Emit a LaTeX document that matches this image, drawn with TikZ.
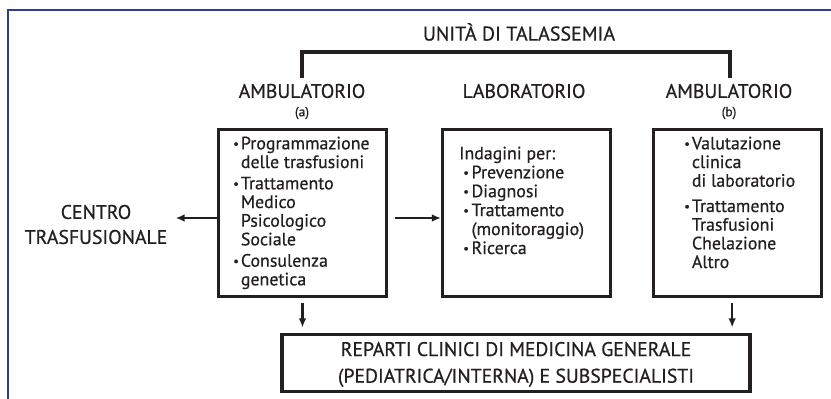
\documentclass[tikz,border=0pt]{standalone}
\usepackage{fontspec}
\setmainfont{PT Sans}[FakeBold=0.6]
\usepackage{xcolor}
\usepackage{tikz}
\usetikzlibrary{arrows.meta}
\definecolor{frameblue}{HTML}{2B3F8F}
\definecolor{ink}{HTML}{231F20}
\tikzset{
  box/.style={draw=ink, line width=2.3pt, minimum width=126pt, minimum height=125.5pt, inner sep=0pt},
  head/.style={font=\fontsize{14.8}{18.75}\selectfont, text=ink, inner sep=0pt},
  body/.style={font=\fontsize{13.4}{14}\selectfont, text=ink, inner sep=0pt, anchor=north west},
  arr/.style={-{Latex[length=2.4mm,width=2mm]}, line width=1.8pt, draw=ink},
}
\newcommand{\pnt}{\raisebox{0.15ex}{\scalebox{0.7}{\textbullet}}}
\begin{document}
\begin{tikzpicture}[x=0.75pt,y=-0.75pt]
\useasboundingbox (0,0) rectangle (831,399);
% cornice
\draw[frameblue, line width=2.2pt] (8,399) -- (8,10) -- (831,10);
%
\node[head, font=\fontsize{15}{18}\selectfont] (title) at (519,32) {UNITÀ DI TALASSEMIA};
\node[head] (hdA) at (302,91) {AMBULATORIO};
\node[head, font=\fontsize{10}{11}\selectfont] (hdAsub) at (302,113) {(a)};
\node[head] (hdL) at (524,91) {LABORATORIO};
\node[head] (hdB) at (729,91) {AMBULATORIO};
\node[head, font=\fontsize{10}{11}\selectfont] (hdBsub) at (729,113) {(b)};
%
\coordinate (brA) at (302,78);
\coordinate (brB) at (730,78);
\draw[line width=2.3pt, ink] (brA) -- ++(0,-26) -| (brB);
%
\node[box] (ambA) at (302.5,213) {};
\node[box] (lab) at (526.5,213) {};
\node[box] (ambB) at (737.5,213) {};
\node[box, minimum width=351pt, minimum height=43pt] (rep) at (516,363) {};
%
\node[body] (txtA) at (233,136) {\begin{tabular}{@{}l@{\hspace{1.5pt}}l@{}}
\pnt & Programmazione\\
     & delle trasfusioni\\[2pt]
\pnt & Trattamento\\
     & Medico\\
     & Psicologico\\
     & Sociale\\[2pt]
\pnt & Consulenza\\
     & genetica
\end{tabular}};
\node[body] (txtL) at (459,146) {\begin{tabular}{@{}l@{\hspace{2pt}}l@{}}
\multicolumn{2}{@{}l@{}}{Indagini per:}\\[0.2pt]
\hspace{3pt}\pnt & Prevenzione\\[0.2pt]
\hspace{3pt}\pnt & Diagnosi\\[0.2pt]
\hspace{3pt}\pnt & Trattamento\\[0.2pt]
                 & (monitoraggio)\\[0.2pt]
\hspace{3pt}\pnt & Ricerca
\end{tabular}};
\node[body] (txtB) at (684,136) {\begin{tabular}{@{}l@{\hspace{1.5pt}}l@{}}
\pnt & Valutazione\\
     & clinica\\
     & di laboratorio\\[5pt]
\pnt & Trattamento\\
     & Trasfusioni\\
     & Chelazione\\
     & Altro
\end{tabular}};
%
\node[head, align=center] (centro) at (96,224.5) {CENTRO\\TRASFUSIONALE};
\node[head, align=center, font=\fontsize{14.8}{20}\selectfont] (repTxt) at (516,364.5) {REPARTI CLINICI DI MEDICINA GENERALE\\(PEDIATRICA/INTERNA) E SUBSPECIALISTI};
%
\draw[arr, shorten >=6pt] ([yshift=-3.75pt]ambA.west) -- ([yshift=-3.75pt]ambA.west -| centro.east);
\draw[arr, shorten <=5pt] ([yshift=-3.75pt]ambA.east) -- ([yshift=-3.75pt]lab.west);
\draw[arr, shorten <=3.5pt, shorten >=4pt] (ambA.south) -- (ambA.south |- rep.north);
\draw[arr, shorten <=3.5pt, shorten >=4pt] ([xshift=-4pt]ambB.south) -- ([xshift=-4pt]ambB.south |- rep.north);
\end{tikzpicture}
\end{document}
